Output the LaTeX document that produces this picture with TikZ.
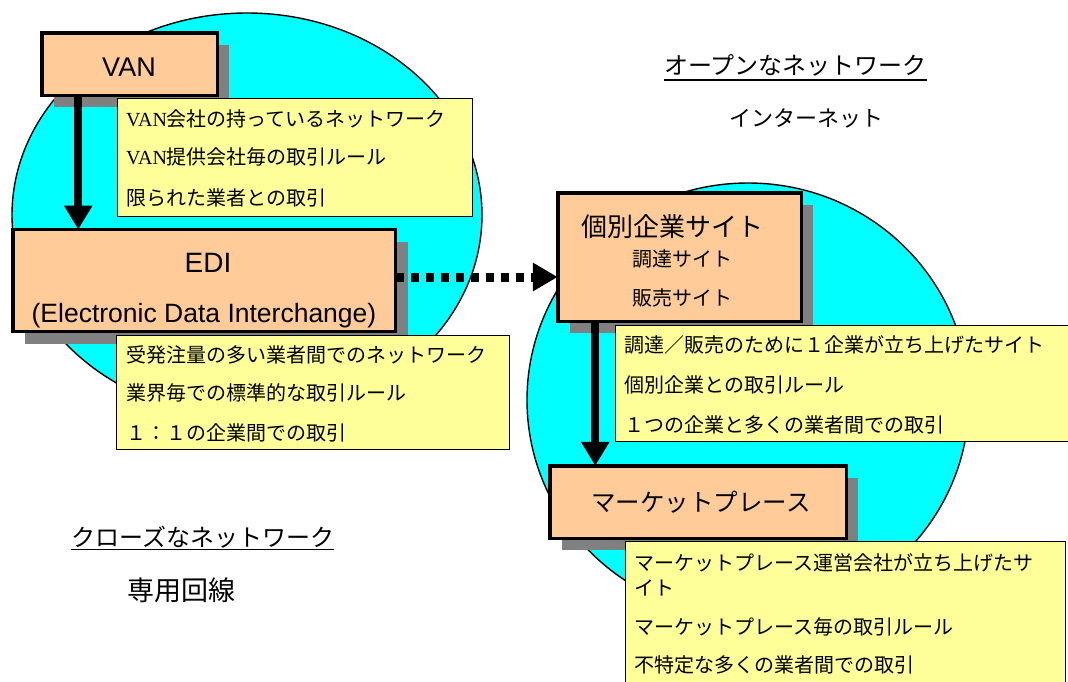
\documentclass[tikz,border=0pt]{standalone}
\usepackage{fontspec}
\setmainfont{Liberation Sans}
\newfontfamily\jp{Noto Sans CJK JP}
\newfontfamily\ser{Liberation Serif}
\usetikzlibrary{arrows.meta,calc,shadows}
\definecolor{cyanfill}{RGB}{0,255,255}
\definecolor{boxfill}{RGB}{255,204,153}
\definecolor{notefill}{RGB}{255,255,153}
\definecolor{shadowgray}{RGB}{128,128,128}
\tikzset{
  net/.style={draw=black, line width=1.4pt, fill=cyanfill},
  mainbox/.style={draw=black, line width=3.5pt, fill=boxfill, anchor=north west,
    inner sep=0pt, outer sep=0pt,
    drop shadow={shadow xshift=12pt, shadow yshift=-12pt, fill=shadowgray, opacity=1}},
  note/.style={draw=black, line width=1.2pt, fill=notefill, anchor=north west,
    inner sep=0pt, outer sep=0pt},
  notetext/.style={inner sep=0pt, anchor=base west, font=\jp\fontsize{20}{24}\selectfont},
  boxtitle/.style={inner sep=0pt, anchor=base},
  headtext/.style={inner sep=0pt, anchor=base west},
  bigarrow/.style={line width=8pt, -{Triangle[length=24pt,width=27pt]}},
  dotarrow/.style={line width=9pt, dash pattern=on 8pt off 7pt, -{Triangle[length=25pt,width=27pt]}},
  uline/.style={line width=1.8pt},
}
\begin{document}
\begin{tikzpicture}[x=1pt,y=-1pt]
\clip (0,0) rectangle (1068,681);
\fill[white] (0,0) rectangle (1068,681);

% network ellipses
\draw[net] (247,215) ellipse [x radius=235, y radius=202];
\draw[net] (748,400) ellipse [x radius=221, y radius=217];

% VAN
\node[mainbox, minimum width=175.5pt, minimum height=62.5pt] (VAN) at (41.75,32.75) {};
\node[note, minimum width=355pt, minimum height=118pt] (VANnote) at (117.6,98.6) {};
% EDI
\node[mainbox, minimum width=382.75pt, minimum height=102pt] (EDI) at (12.75,229.5) {};
\node[note, minimum width=393pt, minimum height=114pt] (EDInote) at (116.6,335.6) {};
% individual company site
\node[mainbox, minimum width=243.5pt, minimum height=128.5pt] (IND) at (557.75,192.75) {};
\node[note, minimum width=470pt, minimum height=116pt] (INDnote) at (615.6,325.6) {};
% marketplace
\node[mainbox, minimum width=296.5pt, minimum height=72.5pt] (MKT) at (549.75,465.75) {};
\node[note, minimum width=440pt, minimum height=170pt] (MKTnote) at (625.6,541.6) {};

% connectors
\draw[bigarrow] ($(VAN.south west)+(36.5,0)$) -- ($(EDI.north west)+(65.5,0)$);
\draw[bigarrow] ($(IND.south west)+(37.5,0)$) -- ($(MKT.north west)+(45.5,0)$);
\draw[dotarrow] ([yshift=3.5pt]EDI.east) -- ([yshift=-20pt]IND.west);

% box titles
\node[boxtitle, font=\fontsize{27}{30}\selectfont] (VANt) at (129,76.7) {VAN};
\node[boxtitle, font=\fontsize{28}{32}\selectfont] (EDIt) at (208,272) {EDI};
\node[boxtitle, font=\fontsize{26.5}{30}\selectfont] (EDIt2) at (204,322) {(Electronic Data Interchange)};
\node[boxtitle, font=\jp\fontsize{26}{30}\selectfont] (INDt) at (672,236.9) {個別企業サイト};
\node[boxtitle, font=\jp\fontsize{20}{24}\selectfont] (INDt2) at (682,266.6) {調達サイト};
\node[boxtitle, font=\jp\fontsize{20}{24}\selectfont] (INDt3) at (682,305.6) {販売サイト};
\node[boxtitle, font=\jp\fontsize{24.5}{28}\selectfont] (MKTt) at (701,511.3) {マーケットプレース};

% note texts
\node[notetext] (v1) at (126,126) {{\ser VAN}会社の持っているネットワーク};
\node[notetext] (v2) at (126,164.5) {{\ser VAN}提供会社毎の取引ルール};
\node[notetext] (v3) at (126,205.9) {限られた業者との取引};

\node[notetext] (e1) at (126,362.6) {受発注量の多い業者間でのネットワーク};
\node[notetext] (e2) at (126,400.9) {業界毎での標準的な取引ルール};
\node[notetext] (e3) at (126,440.9) {１：１の企業間での取引};

\node[notetext] (i1) at (624,352.6) {調達／販売のために１企業が立ち上げたサイト};
\node[notetext] (i2) at (624,392.6) {個別企業との取引ルール};
\node[notetext] (i3) at (624,432.6) {１つの企業と多くの業者間での取引};

\node[notetext] (m1) at (634,570.6) {マーケットプレース運営会社が立ち上げたサ};
\node[notetext] (m2) at (634,595.6) {イト};
\node[notetext] (m3) at (634,634.6) {マーケットプレース毎の取引ルール};
\node[notetext] (m4) at (634,672.6) {不特定な多くの業者間での取引};

% headings
\node[headtext, font=\jp\fontsize{24}{28}\selectfont] (open) at (664,74.1) {オープンなネットワーク};
\draw[uline] ($(open.base west)+(0,5.5)$) -- ($(open.base east)+(0,5.5)$);
\node[headtext, font=\jp\fontsize{22}{26}\selectfont] (inet) at (729,126.4) {インターネット};
\node[headtext, font=\jp\fontsize{24}{28}\selectfont] (closed) at (71,546) {クローズなネットワーク};
\draw[uline] ($(closed.base west)+(0,3.5)$) -- ($(closed.base east)+(0,3.5)$);
\node[headtext, font=\jp\fontsize{27}{30}\selectfont] (lease) at (127,600.3) {専用回線};
\end{tikzpicture}
\end{document}
